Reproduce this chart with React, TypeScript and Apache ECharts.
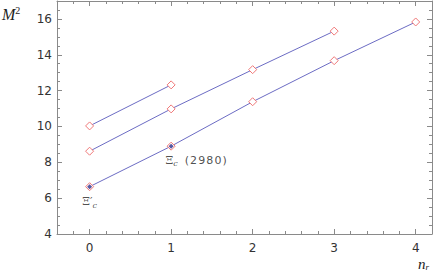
import React, { useEffect, useRef } from 'react';
import * as echarts from 'echarts';

const xMajorTicks = [0, 1, 2, 3, 4];
const xMinorTicks = [-0.2, 0.2, 0.4, 0.6, 0.8, 1.2, 1.4, 1.6, 1.8, 2.2, 2.4, 2.6, 2.8, 3.2, 3.4, 3.6, 3.8, 4.2];
const yMajorTicks = [4, 6, 8, 10, 12, 14, 16];
const yMinorTicks = [4.5, 5, 5.5, 6.5, 7, 7.5, 8.5, 9, 9.5, 10.5, 11, 11.5, 12.5, 13, 13.5, 14.5, 15, 15.5, 16.5];

const nrTop = [0, 1];
const m2Top = [10.03, 12.32];
const nrMid = [0, 1, 2, 3];
const m2Mid = [8.62, 10.98, 13.17, 15.32];
const nrLow = [0, 1, 2, 3, 4];
const m2Low = [6.64, 8.9, 11.38, 13.67, 15.83];

const knownNr = [0, 1];
const knownM2 = [6.64, 8.9];

const LINE = '#6c6cc4';
const RED = '#f07878';
const AXIS = '#8a8a8a';

export default function App() {
  const ref = useRef<HTMLDivElement>(null);
  useEffect(() => {
    if (!ref.current) return;
    const chart = echarts.init(ref.current, undefined, { renderer: 'svg' });
    const grid = { left: 57, right: 4, top: 1, bottom: 38 };
    const baseX = (pos: string, values: number[], len: number, labels: boolean, line: boolean) => ({
      type: 'value', min: -0.4, max: 4.2, position: pos,
      axisLine: { show: line, onZero: false, lineStyle: { color: AXIS, width: 1 } },
      axisTick: { show: true, inside: true, length: len, customValues: values, lineStyle: { color: AXIS } },
      axisLabel: { show: labels, customValues: values, color: '#333', fontFamily: 'DejaVu Sans', fontSize: 12, margin: 8 },
      splitLine: { show: false },
    });
    const baseY = (pos: string, values: number[], len: number, labels: boolean, line: boolean) => ({
      type: 'value', min: 4, max: 17, position: pos,
      axisLine: { show: line, onZero: false, lineStyle: { color: AXIS, width: 1 } },
      axisTick: { show: true, inside: true, length: len, customValues: values, lineStyle: { color: AXIS } },
      axisLabel: { show: labels, customValues: values, color: '#333', fontFamily: 'DejaVu Sans', fontSize: 12, margin: 5 },
      splitLine: { show: false },
    });
    const lineSeries = (xs: number[], ys: number[]) => ({
      type: 'line',
      data: xs.map((x, i) => [x, ys[i]]),
      symbol: 'diamond',
      symbolSize: 8,
      showSymbol: true,
      lineStyle: { color: LINE, width: 1 },
      itemStyle: { color: '#ffffff', borderColor: RED, borderWidth: 1 },
      z: 2,
    });
    const rich = {
      g: { fontFamily: 'DejaVu Serif', fontSize: 11, color: '#222' },
      s: { fontFamily: 'DejaVu Serif', fontStyle: 'italic', fontSize: 8, color: '#222', padding: [7, 0, 0, 0] },
      m: { fontFamily: 'DejaVu Sans', fontSize: 11, color: '#222' },
    };
    chart.setOption({
      animation: false,
      backgroundColor: '#ffffff',
      grid,
      xAxis: [
        baseX('bottom', xMajorTicks, 5, true, true),
        baseX('bottom', xMinorTicks, 3, false, false),
        baseX('top', xMajorTicks, 5, false, true),
        baseX('top', xMinorTicks, 3, false, false),
      ],
      yAxis: [
        baseY('left', yMajorTicks, 5, true, true),
        baseY('left', yMinorTicks, 3, false, false),
        baseY('right', yMajorTicks, 5, false, true),
        baseY('right', yMinorTicks, 3, false, false),
      ],
      series: [
        lineSeries(nrTop, m2Top),
        lineSeries(nrMid, m2Mid),
        lineSeries(nrLow, m2Low),
        {
          type: 'scatter',
          data: knownNr.map((x, i) => ({
            value: [x, knownM2[i]],
            label: i === 0
              ? { show: true, position: 'bottom', distance: 5, offset: [0, 0], formatter: '{g|Ξ′}{s|c}', rich }
              : { show: true, position: 'bottom', distance: 4, offset: [25, 0], formatter: '{g|Ξ}{s|c}{m|  (\u200a2\u200a9\u200a8\u200a0\u200a)}', rich },
          })),
          name: 'known',
          symbol: 'diamond',
          symbolSize: 5,
          itemStyle: { color: '#2c2c88' },
          z: 3,
        },
      ],
      graphic: [
        {
          type: 'text', left: 2, top: 5,
          style: { text: '{i|M}{p|2}', rich: {
            i: { fontFamily: 'Liberation Serif', fontStyle: 'italic', fontSize: 16, fill: '#222' },
            p: { fontFamily: 'Liberation Serif', fontSize: 10, fill: '#222', padding: [0, 0, 8, 0] },
          } },
        },
        {
          type: 'text', left: 418, top: 256,
          style: { text: '{i|n}{s|r}', rich: {
            i: { fontFamily: 'Liberation Serif', fontStyle: 'italic', fontSize: 15, fill: '#222' },
            s: { fontFamily: 'Liberation Serif', fontStyle: 'italic', fontSize: 9, fill: '#222', padding: [7, 0, 0, 0] },
          } },
        },
      ],
    });
    return () => chart.dispose();
  }, []);
  return <div ref={ref} style={{ width: 436, height: 272, position: 'absolute', left: 0, top: 0 }} />;
}
